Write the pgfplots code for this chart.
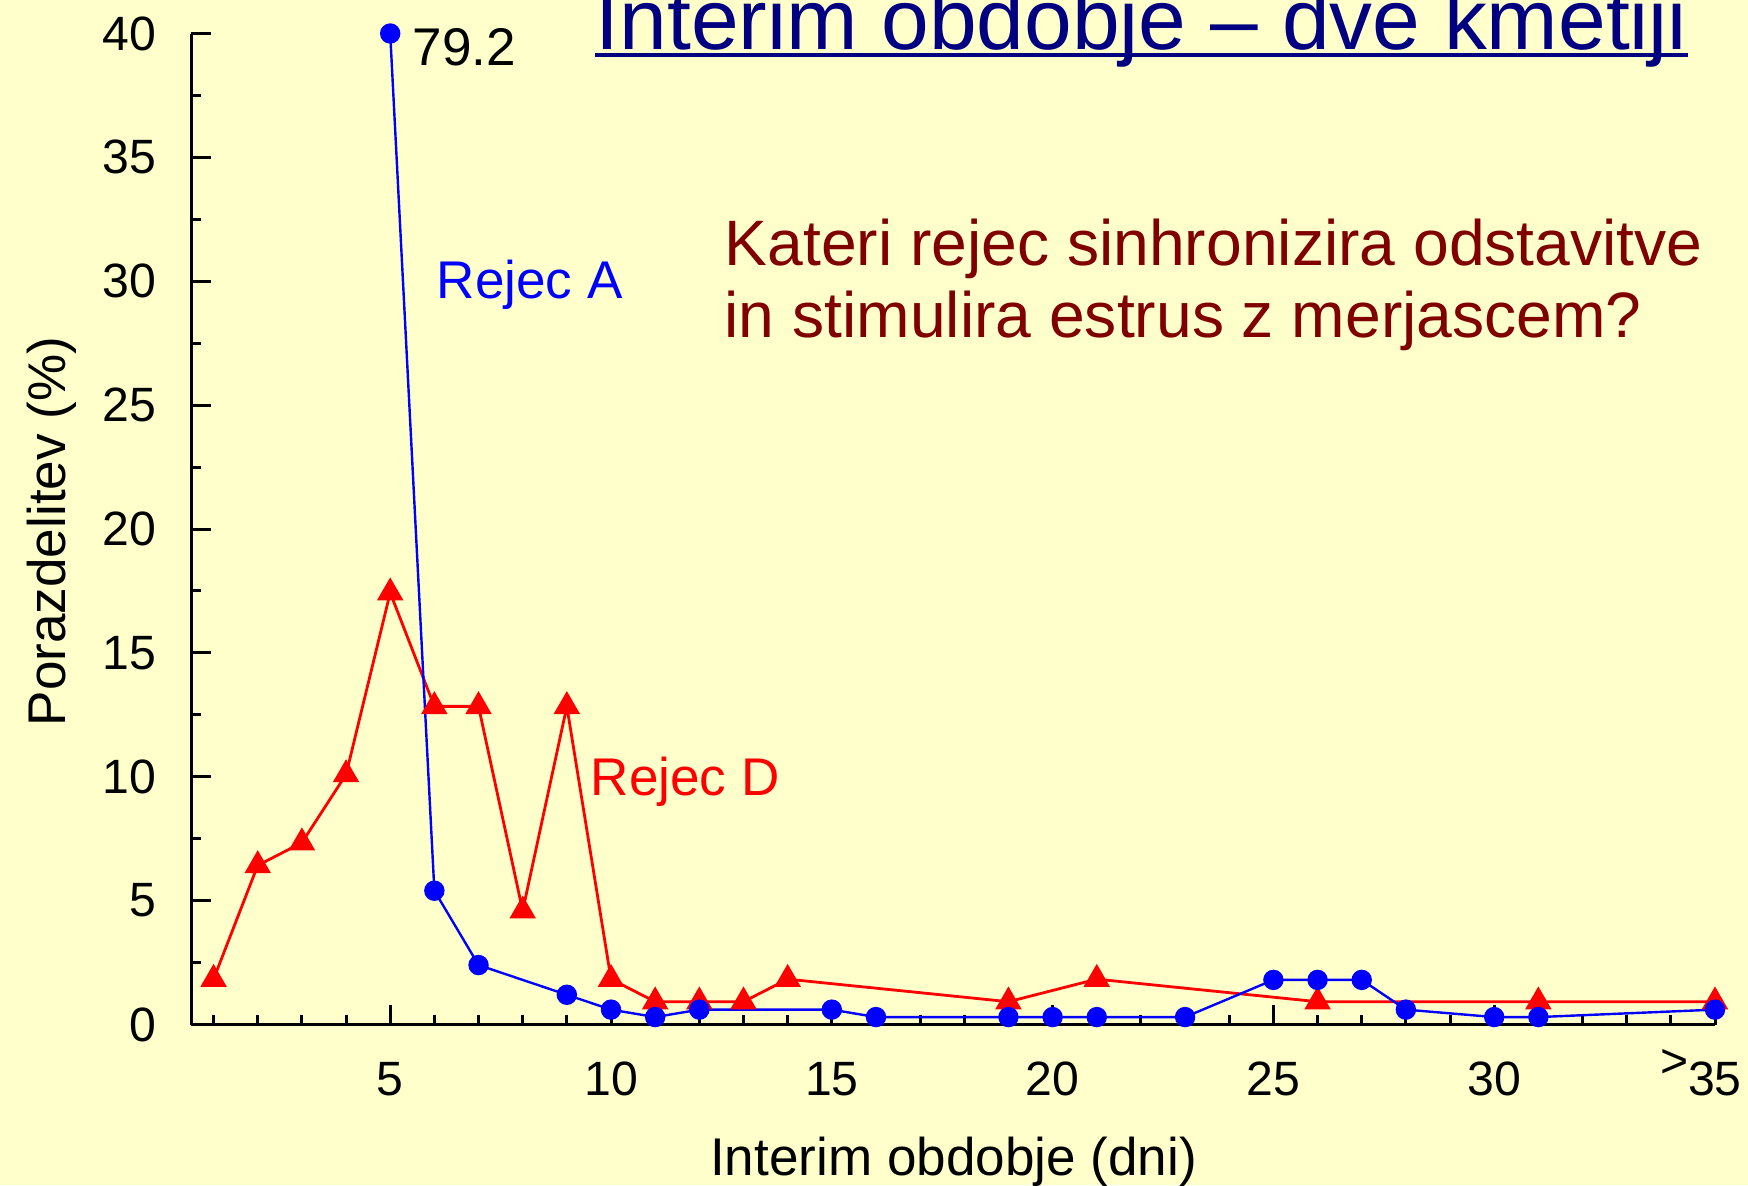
\documentclass[border=0pt]{standalone}
\usepackage{pgfplots}
\pgfplotsset{compat=1.18}
\usepackage{fontspec}
\setmainfont{Liberation Sans}
\definecolor{bg}{RGB}{255,255,204}
\definecolor{navyt}{RGB}{0,0,128}
\definecolor{darkr}{RGB}{128,0,0}
\begin{document}
\begin{tikzpicture}
\fill[bg] (0,0) rectangle (17.48,11.85);
\begin{axis}[
  at={(1.915cm,1.605cm)}, anchor=south west,
  scale only axis, width=15.235cm, height=9.91cm,
  xmin=0.5, xmax=35, ymin=0, ymax=40,
  axis lines=left, axis line style={-, line width=0.03cm, black},
  clip=false,
  tick align=inside,
  major tick length=0.2cm, minor tick length=0.1cm,
  tick style={black, line width=0.03cm},
  xtick={5,10,...,35},
  xticklabels={5,10,15,20,25,30,{\llap{\raisebox{0.36em}{>}}35}},
  minor xtick={1,...,34},
  ytick={0,5,...,40},
  minor ytick={2.5,7.5,...,37.5},
  yticklabel={\pgfmathprintnumber[assume math mode=true]{\tick}},
  xticklabel style={font=\fontsize{13.7}{16}\selectfont, anchor=base, inner sep=0pt, yshift=-0.705cm},
  yticklabel style={font=\fontsize{13.7}{16}\selectfont, anchor=east, inner sep=0pt, xshift=-0.345cm},
]
% Rejec D
\addplot[red, line width=0.028cm, mark=triangle*, mark size=0.125cm, mark options={solid, fill=red}] coordinates {
(1,1.83)(2,6.42)(3,7.34)(4,10.09)(5,17.43)(6,12.84)(7,12.84)(8,4.59)(9,12.84)(10,1.83)
(11,0.92)(12,0.92)(13,0.92)(14,1.83)(19,0.92)(21,1.83)(26,0.92)(31,0.92)(35,0.92)};
% Rejec A (value at 5 is 79.2, drawn at the top of the scale)
\addplot[blue, line width=0.024cm, mark=*, mark size=0.09cm, mark options={solid, fill=blue}] coordinates {
(5,40)(6,5.4)(7,2.4)(9,1.2)(10,0.6)(11,0.3)(12,0.6)(15,0.6)(16,0.3)(19,0.3)
(20,0.3)(21,0.3)(23,0.3)(25,1.8)(26,1.8)(27,1.8)(28,0.6)(30,0.3)(31,0.3)(35,0.6)};
\end{axis}
% axis labels
\node[anchor=base, inner sep=0pt, font=\fontsize{15.1}{18}\selectfont] at (9.535,0.10) {Interim obdobje (dni)};
\node[rotate=90, anchor=base, inner sep=0pt, font=\fontsize{15.1}{18}\selectfont] at (0.65,6.535) {Porazdelitev (\%)};
% annotations
\node[anchor=base west, inner sep=0pt, font=\fontsize{15.1}{18}\selectfont] at (4.12,11.20) {79.2};
\node[anchor=base west, inner sep=0pt, text=blue, font=\fontsize{15.1}{18}\selectfont] at (4.36,8.87) {Rejec A};
\node[anchor=base west, inner sep=0pt, text=red, font=\fontsize{15.1}{18}\selectfont] at (5.90,3.90) {Rejec D};
\node[anchor=base west, inner sep=0pt, text=darkr, font=\fontsize{18.27}{22}\selectfont] at (7.24,9.20) {Kateri rejec sinhronizira odstavitve};
\node[anchor=base west, inner sep=0pt, text=darkr, font=\fontsize{18.27}{22}\selectfont] at (7.24,8.48) {in stimulira estrus z merjascem?};
% title
\node[anchor=base west, inner sep=0pt, text=navyt, font=\fontsize{24.4}{29}\selectfont] (T) at (5.95,11.36) {Interim obdobje – dve kmetiji};
\draw[navyt, line width=0.042cm] ([yshift=-0.06cm]T.base west) -- ([yshift=-0.06cm]T.base east);
\pgfresetboundingbox
\useasboundingbox (0,0) rectangle (17.48,11.85);
\end{tikzpicture}
\end{document}
